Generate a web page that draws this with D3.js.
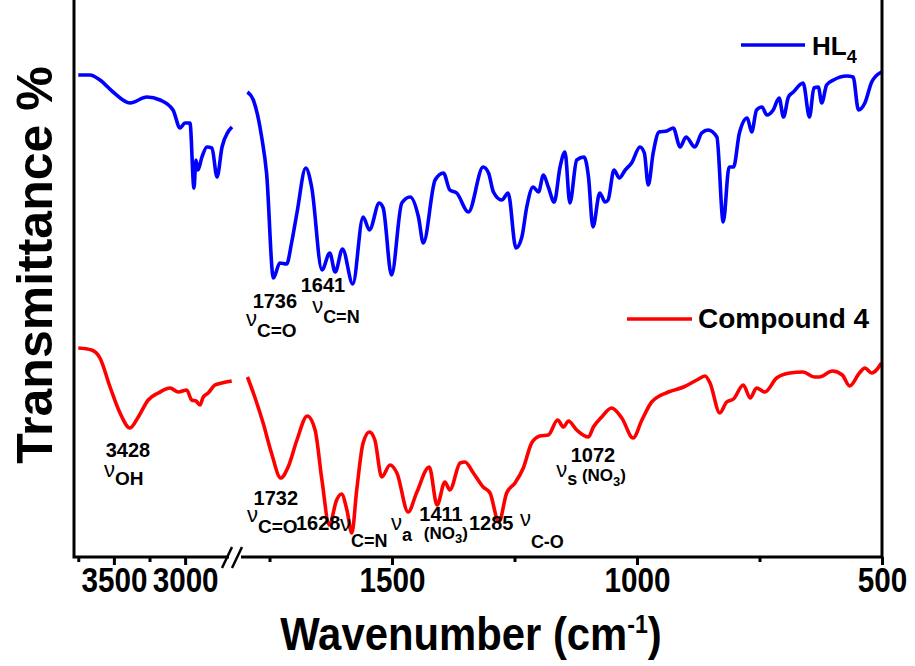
<!DOCTYPE html>
<html>
<head>
<meta charset="utf-8">
<script src="https://cdn.jsdelivr.net/npm/d3@7"></script>
<style>
  body { margin: 0; background: #fff; }
  svg { display: block; font-family: "Liberation Sans", Arial, sans-serif; }
</style>
</head>
<body>
<svg id="chart" width="915" height="666"></svg>
<script>
// =======================
// FT-IR spectra: HL4 vs Compound 4 (broken wavenumber axis)
// =======================

// ---------- Data (wavenumber cm-1, transmittance a.u. with offset) ----------
const hl4HighWn = [3750, 3668, 3598, 3506, 3387, 3268, 3176, 3085, 3036, 3001, 2966, 2938, 2924, 2910, 2882, 2847, 2812, 2776, 2741, 2699, 2671];
const hl4HighT  = [48.2, 48.2, 47.7, 46.5, 45.4, 46.0, 45.7, 44.7, 42.9, 43.4, 43.4, 36.9, 39.7, 38.7, 40.0, 41.0, 40.9, 38.0, 41.0, 42.5, 43.0];

const hl4LowWn = [1795, 1783, 1766, 1756, 1742, 1729, 1715, 1705, 1694, 1676, 1664, 1643, 1627, 1616, 1601, 1580,
  1559, 1546, 1526, 1518, 1501, 1480, 1463, 1446, 1436, 1412, 1395, 1382, 1368, 1344, 1314, 1303, 1293, 1276,
  1263, 1247, 1235, 1225, 1212, 1201, 1191, 1181, 1169, 1157, 1147, 1137, 1123, 1108, 1099, 1090, 1076, 1065,
  1059, 1047, 1036, 1024, 1011, 994, 985, 977, 967, 955, 939, 926, 912, 900, 882, 868, 855, 837, 824, 812, 803,
  791, 775, 766, 756, 745, 735, 722, 710, 701, 691, 681, 661, 648, 639, 630, 623, 613, 599, 572, 559, 548, 535, 521, 501];
const hl4LowT = [46.5, 45.7, 42.0, 38.4, 27.9, 29.4, 29.3, 31.4, 34.4, 38.9, 37.0, 28.7, 30.4, 28.5, 30.8, 27.3,
  34.0, 32.7, 35.4, 34.9, 28.2, 35.4, 36.0, 34.0, 31.4, 37.7, 38.4, 36.7, 36.4, 34.5, 39.0, 38.4, 36.5, 35.7,
  36.4, 30.9, 32.0, 35.0, 37.0, 36.5, 38.2, 37.0, 35.5, 39.0, 40.5, 35.4, 39.7, 40.0, 38.0, 33.0, 36.4, 35.5,
  35.7, 38.7, 37.9, 38.7, 39.4, 41.0, 40.4, 37.2, 40.4, 42.5, 42.6, 42.9, 41.0, 42.0, 41.0, 42.4, 42.7, 42.0, 33.5, 39.0, 39.0,
  42.4, 43.9, 42.5, 44.7, 45.0, 44.2, 44.7, 45.9, 44.0, 46.0, 46.5, 47.4, 44.0, 46.9, 47.0, 45.4, 47.2, 47.7, 48.1, 48.0, 44.7, 45.4, 47.5, 48.5];

const cpdHighWn = [3750, 3656, 3598, 3527, 3457, 3387, 3329, 3259, 3188, 3106, 3048, 2989, 2954, 2924, 2896, 2873, 2838, 2791, 2743, 2673];
const cpdHighT  = [20.9, 20.7, 19.9, 17.0, 14.4, 12.9, 14.0, 15.7, 16.4, 16.9, 16.5, 16.7, 15.7, 15.6, 15.2, 16.0, 16.4, 17.2, 17.4, 17.6];

const cpdLowWn = [1795, 1780, 1763, 1746, 1727, 1712, 1694, 1673, 1657, 1643, 1628, 1613, 1603, 1592, 1582, 1572,
  1559, 1546, 1535, 1521, 1504, 1490, 1467, 1450, 1424, 1408, 1392, 1382, 1361, 1351, 1334, 1314, 1300, 1282,
  1266, 1249, 1232, 1215, 1198, 1181, 1162, 1150, 1140, 1123, 1099, 1089, 1072, 1052, 1031, 1008, 990, 970,
  936, 905, 878, 861, 851, 831, 817, 803, 783, 769, 756, 739, 715, 688, 661, 638, 628, 601, 581, 566, 546, 535, 521, 501];
const cpdLowT = [18.0, 16.0, 13.4, 10.4, 7.9, 9.0, 11.7, 14.1, 12.7, 7.7, 3.2, 5.7, 6.3, 4.7, 2.4, 6.7,
  11.4, 12.5, 11.7, 8.0, 9.2, 8.4, 4.5, 6.4, 9.0, 5.2, 7.5, 6.7, 9.4, 9.5, 8.4, 7.0, 6.4, 3.5,
  6.4, 7.4, 8.9, 11.4, 12.1, 12.2, 13.7, 13.0, 13.6, 12.7, 12.0, 13.0, 14.0, 14.9, 13.9, 11.9, 13.7, 15.5,
  16.5, 17.0, 17.7, 18.1, 17.4, 14.4, 15.5, 15.8, 17.2, 15.9, 16.9, 16.5, 17.9, 18.4, 18.5, 18.0, 18.0, 18.6, 18.2, 17.1, 18.4, 18.9, 18.4, 19.4];

// ticks
const highMajor = [3500, 3000];
const highMinor = [3750, 3250];
const lowMajor  = [1500, 1000, 500];
const lowMinor  = [1750, 1250, 750];

// ---------- Layout ----------
const svg = d3.select("#chart");
const axisY = 557;
const leftX = 74, rightX = 882;

const xHigh = d3.scaleLinear().domain([3780, 2650]).range([leftX, 235]);
const xLow  = d3.scaleLinear().domain([1800, 500]).range([245, rightX]);
const y = d3.scaleLinear().domain([0, 55.7]).range([axisY, 0]);

const line = (xs) => d3.line()
  .x(d => xs(d[0]))
  .y(d => y(d[1]))
  .curve(d3.curveMonotoneX);

const series = [
  { color: "#0000ff", parts: [[hl4HighWn, hl4HighT, xHigh], [hl4LowWn, hl4LowT, xLow]] },
  { color: "#ff0000", parts: [[cpdHighWn, cpdHighT, xHigh], [cpdLowWn, cpdLowT, xLow]] }
];

const gLines = svg.append("g");
series.forEach(s => {
  s.parts.forEach(([wn, t, xs]) => {
    gLines.append("path")
      .datum(d3.zip(wn, t))
      .attr("d", line(xs))
      .attr("fill", "none")
      .attr("stroke", s.color)
      .attr("stroke-width", 3.6)
      .attr("stroke-linejoin", "round");
  });
});

// ---------- Axes ----------
function drawTicks(xs, values, size, labels) {
  const ax = d3.axisBottom(xs).tickValues(values).tickSize(size).tickSizeOuter(0)
    .tickFormat(labels ? d3.format("d") : "");
  const g = svg.append("g").attr("transform", `translate(0,${axisY})`).call(ax);
  g.select(".domain").remove();
  g.selectAll(".tick line").attr("stroke", "#000").attr("stroke-width", 3);
  g.selectAll(".tick text")
    .attr("y", 35)
    .attr("dy", 0)
    .attr("font-size", 35)
    .attr("font-weight", "bold")
    .attr("font-family", "'Liberation Sans', Arial, sans-serif")
    .attr("fill", "#000")
    .attr("textLength", d => String(d).length * 16.5)
    .attr("lengthAdjust", "spacingAndGlyphs");
}
drawTicks(xHigh, highMajor, 8, true);
drawTicks(xHigh, highMinor, 5, false);
drawTicks(xLow, lowMajor, 8, true);
drawTicks(xLow, lowMinor, 5, false);

const frame = svg.append("g").attr("stroke", "#000").attr("stroke-width", 3).attr("fill", "none");
frame.append("path").attr("d", `M${leftX},0V${axisY}H229`);
frame.append("path").attr("d", `M241,${axisY}H${rightX}V0`);
// axis break "//"
frame.append("line").attr("x1", 222).attr("y1", 568).attr("x2", 232).attr("y2", 547).attr("stroke-width", 2.5);
frame.append("line").attr("x1", 232).attr("y1", 568).attr("x2", 242).attr("y2", 547).attr("stroke-width", 2.5);

// axis titles (x title is a narrow face, so squeeze it horizontally)
svg.append("g")
  .attr("transform", "translate(471,650) scale(0.89,1)")
  .append("text")
  .attr("text-anchor", "middle")
  .attr("font-size", 47).attr("font-weight", "bold")
  .call(t => {
    t.append("tspan").text("Wavenumber (cm");
    t.append("tspan").attr("font-size", 26).attr("dy", -17).text("-1");
    t.append("tspan").attr("dy", 17).text(")");
  });

svg.append("text")
  .attr("transform", "translate(52,265) rotate(-90)")
  .attr("text-anchor", "middle")
  .attr("font-size", 50).attr("font-weight", "bold")
  .text("Transmittance %");

// ---------- Legend ----------
const legend = svg.append("g").attr("font-weight", "bold");
legend.append("line").attr("x1", 741).attr("x2", 805).attr("y1", 45).attr("y2", 45)
  .attr("stroke", "#0000ff").attr("stroke-width", 3.6);
legend.append("text").attr("x", 812).attr("y", 55).attr("font-size", 26)
  .call(t => {
    t.append("tspan").text("HL");
    t.append("tspan").attr("font-size", 18).attr("dy", 8).text("4");
  });
legend.append("line").attr("x1", 627).attr("x2", 692).attr("y1", 319).attr("y2", 319)
  .attr("stroke", "#ff0000").attr("stroke-width", 3.6);
legend.append("text").attr("x", 698).attr("y", 328).attr("font-size", 28).text("Compound 4");

// ---------- Peak annotations ----------
// each note: anchor in data coordinates, text pieces [text, size, weight, dy]
const notes = [
  { w: 1739, v: 24.9, a: "middle", p: [["1736", 20, "bold", 0]] },
  { w: 1798, v: 23.1, p: [["ν", 22, "normal", 0], ["C=O", 19, "bold", 11]] },
  { w: 1641, v: 26.5, a: "middle", p: [["1641", 20, "bold", 0]] },
  { w: 1663, v: 24.4, p: [["ν", 22, "normal", 0], ["C=N", 18, "bold", 10]] },

  { w: 3401, v: 10.0, a: "middle", high: true, p: [["3428", 20, "bold", 0]] },
  { w: 3569, v: 8.0, high: true, p: [["ν", 22, "normal", 0], ["OH", 19, "bold", 8]] },
  { w: 1737, v: 5.2, a: "middle", p: [["1732", 20, "bold", 0]] },
  { w: 1796, v: 3.5, p: [["ν", 22, "normal", 0], ["C=O", 19, "bold", 11]] },
  { w: 1696, v: 2.7, p: [["1628", 20, "bold", 0]] },
  { w: 1606, v: 2.6, p: [["ν", 22, "normal", 0], ["C=N", 18, "bold", 16]] },
  { w: 1502, v: 2.7, p: [["ν", 22, "normal", 0], ["a", 18, "bold", 11]] },
  { w: 1400, v: 3.6, a: "middle", p: [["1411", 20, "bold", 0]] },
  { w: 1435, v: 1.8, p: [["(NO", 17, "bold", 0], ["3", 13, "bold", 4], [")", 17, "bold", -4]] },
  { w: 1343, v: 2.7, p: [["1285", 20, "bold", 0]] },
  { w: 1239, v: 3.1, p: [["ν", 22, "normal", 0], ["C-O", 18, "bold", 22]] },
  { w: 1090, v: 9.5, a: "middle", p: [["1072", 20, "bold", 0]] },
  { w: 1165, v: 8.0, p: [["ν", 22, "normal", 0], ["s", 18, "bold", 8], [" (NO", 17, "bold", -4], ["3", 13, "bold", 5], [")", 17, "bold", -5]] }
];

const gNotes = svg.append("g").attr("fill", "#000");
notes.forEach(n => {
  const xs = n.high ? xHigh : xLow;
  const t = gNotes.append("text")
    .attr("x", xs(n.w))
    .attr("y", y(n.v))
    .attr("text-anchor", n.a || "start");
  n.p.forEach(([txt, size, weight, dy]) => {
    t.append("tspan")
      .attr("font-size", size)
      .attr("font-weight", weight)
      .attr("dy", dy)
      .text(txt);
  });
});
</script>
</body>
</html>
